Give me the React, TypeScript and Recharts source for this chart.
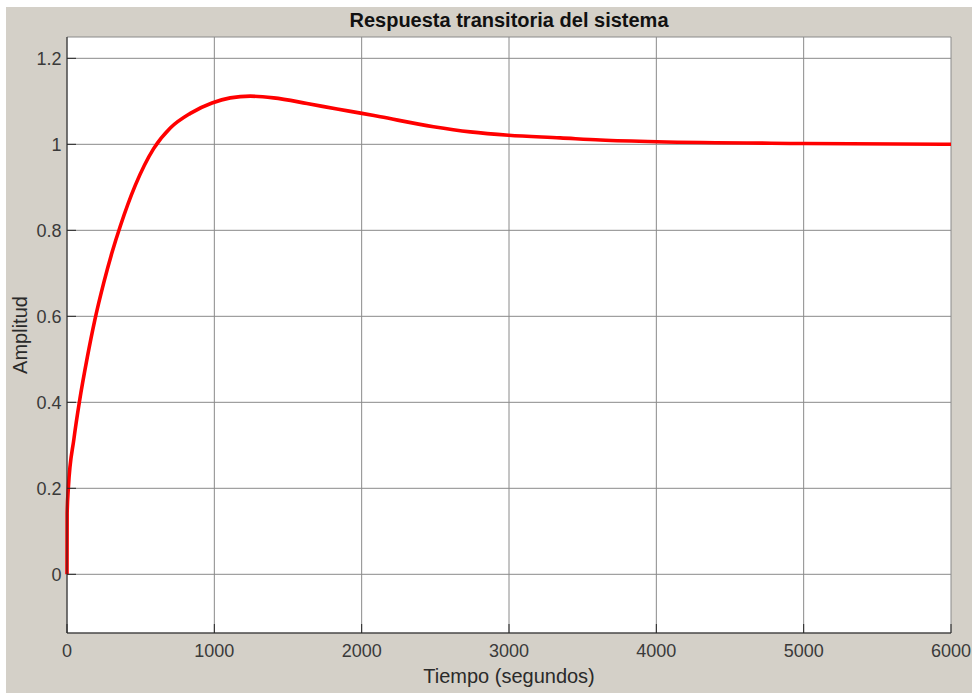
import { LineChart, Line, XAxis, YAxis, CartesianGrid } from "recharts"

// Step response samples: time in seconds, amplitude
const tiempo = [
  0, 1, 9, 47, 86, 138, 188, 251, 307, 362, 464, 588, 701, 837, 984, 1108, 1244, 1402, 1629, 1833, 2002, 2127, 2488,
  2737, 2997, 3348, 3620, 4004, 5000, 6000,
]
const amplitud = [
  0, 0.142, 0.2, 0.315, 0.405, 0.505, 0.59, 0.68, 0.75, 0.81, 0.905, 0.99, 1.038, 1.072, 1.096, 1.108, 1.112, 1.108,
  1.095, 1.082, 1.072, 1.064, 1.041, 1.029, 1.021, 1.015, 1.01, 1.006, 1.002, 1.0,
]

const xTicks = [0, 1000, 2000, 3000, 4000, 5000, 6000]
const yTicks = [0, 0.2, 0.4, 0.6, 0.8, 1, 1.2]

const data = tiempo.map((t, i) => ({ t, y: amplitud[i] }))

const FONT = '"Liberation Sans", Arial, Helvetica, sans-serif'
const TICK_LEN = 9
const AXIS_COLOR = "#262626"
const TEXT_COLOR = "#3a3a3a"

const BottomTick = (props: any) => {
  const { x, y, payload } = props
  return (
    <g>
      <line x1={x} x2={x} y1={y} y2={y - TICK_LEN} stroke={AXIS_COLOR} />
      <text x={x} y={y + 23.5} textAnchor="middle" fill={TEXT_COLOR} fontSize={18} fontFamily={FONT}>
        {payload.value}
      </text>
    </g>
  )
}

const LeftTick = (props: any) => {
  const { x, y, payload } = props
  return (
    <g>
      <line x1={x} x2={x + TICK_LEN} y1={y} y2={y} stroke={AXIS_COLOR} />
      <text x={x - 5.5} y={y + 6.5} textAnchor="end" fill={TEXT_COLOR} fontSize={18} fontFamily={FONT}>
        {payload.value}
      </text>
    </g>
  )
}

const TopTick = (props: any) => {
  const { x, y } = props
  return <line x1={x} x2={x} y1={y} y2={y + TICK_LEN} stroke={AXIS_COLOR} />
}

const RightTick = (props: any) => {
  const { x, y } = props
  return <line x1={x} x2={x - TICK_LEN} y1={y} y2={y} stroke={AXIS_COLOR} />
}

const AmplitudLabel = (props: any) => {
  const { viewBox } = props
  const cx = viewBox.x + 27
  const cy = viewBox.y + viewBox.height / 2
  return (
    <text
      x={cx}
      y={cy}
      transform={`rotate(-90 ${cx} ${cy})`}
      textAnchor="middle"
      fill="#2a2a2a"
      fontSize={20}
      fontFamily={FONT}
    >
      Amplitud
    </text>
  )
}

export default function App() {
  return (
    <div style={{ position: "relative", width: 972, height: 695 }}>
      <style>{`body { margin: 0; }`}</style>
      <div style={{ position: "absolute", left: 6, top: 7, width: 966, height: 686, background: "#d4d0c8" }} />
      <div
        style={{
          position: "absolute",
          left: 67,
          top: 10,
          width: 884,
          textAlign: "center",
          fontFamily: FONT,
          fontSize: 20,
          lineHeight: "20px",
          fontWeight: "bold",
          color: "#111111",
        }}
      >
        Respuesta transitoria del sistema
      </div>
      <div style={{ position: "absolute", left: 0, top: 0 }}>
        <LineChart width={972} height={695} data={data} margin={{ top: 37, right: 21, left: 0, bottom: 0 }}>
          <CartesianGrid stroke="#8a8a8a" fill="#ffffff" fillOpacity={1} />
          <XAxis
            dataKey="t"
            type="number"
            domain={[0, 6000]}
            ticks={xTicks}
            interval={0}
            height={62}
            tickSize={0}
            tickMargin={0}
            tickLine={false}
            axisLine={{ stroke: AXIS_COLOR }}
            tick={BottomTick}
            label={{
              value: "Tiempo (segundos)",
              position: "insideBottom",
              offset: 12,
              fill: "#2a2a2a",
              fontSize: 20,
              fontFamily: FONT,
            }}
          />
          <XAxis
            xAxisId="top"
            orientation="top"
            dataKey="t"
            type="number"
            domain={[0, 6000]}
            ticks={xTicks}
            interval={0}
            height={0}
            tickSize={0}
            tickMargin={0}
            tickLine={false}
            axisLine={{ stroke: AXIS_COLOR }}
            tick={TopTick}
          />
          <YAxis
            type="number"
            domain={[-0.1365, 1.2496]}
            allowDataOverflow
            ticks={yTicks}
            interval={0}
            width={67}
            tickSize={0}
            tickMargin={0}
            tickLine={false}
            axisLine={{ stroke: AXIS_COLOR }}
            tick={LeftTick}
            label={<AmplitudLabel />}
          />
          <YAxis
            yAxisId="right"
            orientation="right"
            type="number"
            domain={[-0.1365, 1.2496]}
            allowDataOverflow
            ticks={yTicks}
            interval={0}
            width={0}
            tickSize={0}
            tickMargin={0}
            tickLine={false}
            axisLine={{ stroke: AXIS_COLOR }}
            tick={RightTick}
          />
          <Line
            type="monotone"
            dataKey="y"
            stroke="#ff0000"
            strokeWidth={3.6}
            dot={false}
            isAnimationActive={false}
          />
        </LineChart>
      </div>
    </div>
  )
}
